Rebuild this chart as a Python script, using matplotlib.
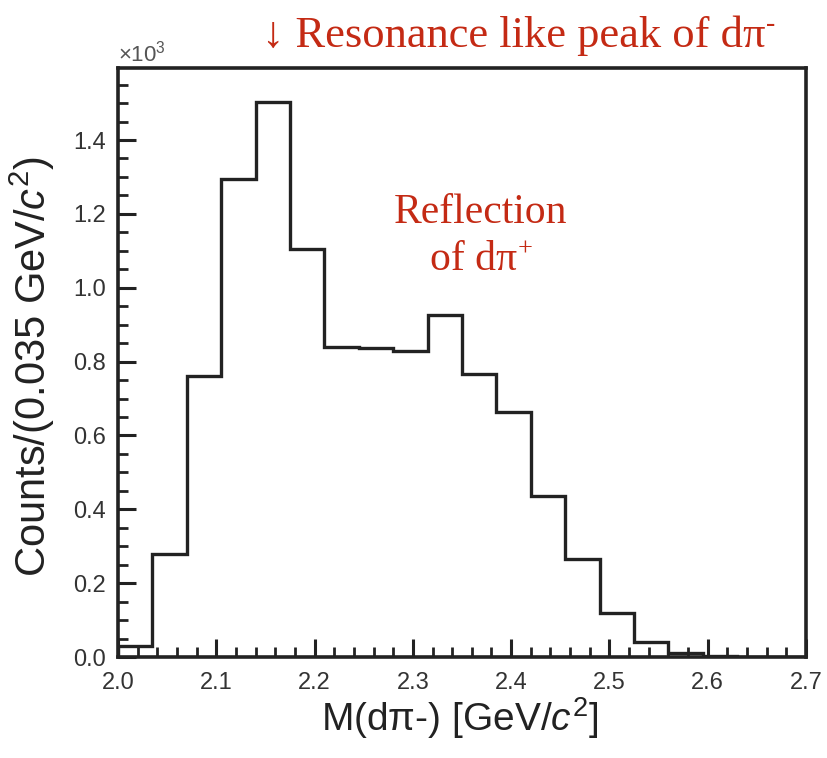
import numpy as np
import matplotlib
matplotlib.use("Agg")
import matplotlib.pyplot as plt
from matplotlib.ticker import MultipleLocator, FuncFormatter

plt.rcParams['font.family'] = ['Liberation Sans', 'DejaVu Sans']
plt.rcParams['mathtext.fontset'] = 'custom'
plt.rcParams['mathtext.rm'] = 'Liberation Sans'
plt.rcParams['mathtext.it'] = 'Liberation Sans:italic'

# histogram contents in units of 10^3 counts, 0.035 GeV bins from 2.0 to 2.7
bin_edges = np.round(np.arange(2.0, 2.7001, 0.035), 3)
counts = [0.030, 0.278, 0.762, 1.295, 1.504, 1.106, 0.840, 0.836, 0.830, 0.926,
          0.766, 0.664, 0.436, 0.265, 0.118, 0.040, 0.012, 0.003, 0.001, 0.0]

ink = '#222222'
red = '#c42a14'
serif = ['Liberation Serif', 'DejaVu Serif']

fig = plt.figure(figsize=(8.27, 7.58), dpi=100)
ax = fig.add_axes([0.1427, 0.1332, 0.8319, 0.7771])

ax.stairs(counts, bin_edges, color=ink, lw=2.4)

ax.set_xlim(2.0, 2.7)
ax.set_ylim(0, 1.595)
ax.xaxis.set_major_locator(MultipleLocator(0.1))
ax.xaxis.set_minor_locator(MultipleLocator(0.02))
ax.yaxis.set_major_locator(MultipleLocator(0.2))
ax.yaxis.set_minor_locator(MultipleLocator(0.05))
ax.xaxis.set_major_formatter(FuncFormatter(lambda v, p: f"{v:.1f}"))
ax.yaxis.set_major_formatter(FuncFormatter(lambda v, p: f"{v:.1f}"))

for s in ax.spines.values():
    s.set_color(ink)
    s.set_linewidth(2.6)

ax.tick_params(which='both', direction='in', color=ink, labelcolor='#333333',
               labelsize=17, top=False, right=False)
ax.tick_params(which='major', length=13, width=2.2)
ax.tick_params(which='minor', length=7, width=2.0)
ax.tick_params(axis='x', pad=11)
ax.tick_params(axis='y', pad=9)

ax.set_xlabel(r"M(dπ-) [GeV/$c^2$]", fontsize=28, color=ink)
ax.set_ylabel(r"Counts/(0.035 GeV/$c^2$)", fontsize=30, color=ink)
ax.xaxis.set_label_coords(0.497, -0.104)
ax.xaxis.label.set_va('center')
ax.yaxis.set_label_coords(-0.124, 0.494)
ax.yaxis.label.set_va('center')

fig.text(0.143, 0.912, r"$\times$10$^3$", fontsize=16, color='#555555',
         ha='left', va='bottom')

# annotations with small raised signs after dπ
top = fig.text(0.317, 0.953, "↓ Resonance like peak of dπ", fontsize=32,
               color=red, family=serif, ha='left', va='center')
ax.annotate("-", xy=(1, 0.78), xycoords=top, fontsize=20, color=red,
            family=serif, ha='left', va='center')
ax.text(2.369, 1.203, "Reflection", fontsize=30, color=red,
        family=serif, ha='center', va='center')
low = ax.text(2.362, 1.075, "of dπ", fontsize=30, color=red,
              family=serif, ha='center', va='center')
ax.annotate("+", xy=(1.0, 0.78), xycoords=low, fontsize=19, color=red,
            family=serif, ha='left', va='center')

fig.savefig("out.png", dpi=100)
